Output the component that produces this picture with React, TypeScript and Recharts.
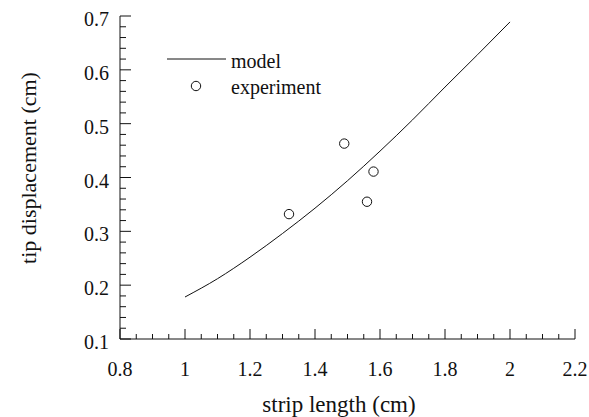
import { ComposedChart, Line, Scatter, XAxis, YAxis, Label } from "recharts";

// model curve (strip length cm -> tip displacement cm)
const modelLength = [1.0, 1.1, 1.2, 1.3, 1.4, 1.5, 1.6, 1.7, 1.8, 1.9, 2.0];
const modelDisp = [0.178, 0.212, 0.252, 0.296, 0.343, 0.394, 0.449, 0.507, 0.568, 0.628, 0.689];

// measured points
const expLength = [1.32, 1.49, 1.58, 1.56];
const expDisp = [0.332, 0.463, 0.411, 0.355];

const xTicks = [
  0.8, 0.85, 0.9, 0.95, 1, 1.05, 1.1, 1.15, 1.2, 1.25, 1.3, 1.35, 1.4, 1.45, 1.5,
  1.55, 1.6, 1.65, 1.7, 1.75, 1.8, 1.85, 1.9, 1.95, 2, 2.05, 2.1, 2.15, 2.2,
];
const xMajor = [0.8, 1, 1.2, 1.4, 1.6, 1.8, 2, 2.2];
const yTicks = [
  0.1, 0.12, 0.14, 0.16, 0.18, 0.2, 0.22, 0.24, 0.26, 0.28, 0.3, 0.32, 0.34, 0.36, 0.38,
  0.4, 0.42, 0.44, 0.46, 0.48, 0.5, 0.52, 0.54, 0.56, 0.58, 0.6, 0.62, 0.64, 0.66, 0.68, 0.7,
];
const yMajor = [0.1, 0.2, 0.3, 0.4, 0.5, 0.6, 0.7];

const modelData = modelLength.map((x, i) => ({ x, y: modelDisp[i] }));
const expData = expLength.map((x, i) => ({ x, y: expDisp[i] }));

const FONT = "'Liberation Serif', 'Times New Roman', Times, serif";
const INK = "#111";
const txt = { fontFamily: FONT };

const isMajor = (v: number, list: number[]) => list.some((m) => Math.abs(m - v) < 1e-6);

const BottomTick = (props: any) => {
  const { x, y, payload } = props;
  const major = isMajor(payload.value, xMajor);
  return (
    <g>
      <line x1={x} y1={y} x2={x} y2={y - (major ? 10 : 5)} stroke={INK} />
      {major && (
        <text x={x} y={y + 37} textAnchor="middle" fontSize={20} style={txt} fill={INK}>
          {String(payload.value)}
        </text>
      )}
    </g>
  );
};

const TopTick = (props: any) => {
  const { x, y, payload } = props;
  const major = isMajor(payload.value, xMajor);
  return <line x1={x} y1={y} x2={x} y2={y + (major ? 10 : 5)} stroke={INK} />;
};

const LeftTick = (props: any) => {
  const { x, y, payload } = props;
  const major = isMajor(payload.value, yMajor);
  return (
    <g>
      <line x1={x} y1={y} x2={x + (major ? 11 : 6)} y2={y} stroke={INK} />
      {major && (
        <text x={x - 11} y={y + 10} textAnchor="end" fontSize={20} style={txt} fill={INK}>
          {String(payload.value)}
        </text>
      )}
    </g>
  );
};

const RightTick = (props: any) => {
  const { x, y, payload } = props;
  const major = isMajor(payload.value, yMajor);
  return <line x1={x} y1={y} x2={x - (major ? 11 : 6)} y2={y} stroke={INK} />;
};

export default function App() {
  return (
    <div style={{ position: "absolute", left: 0, top: 0, width: 589, height: 417, background: "#fff" }}>
      <ComposedChart
        width={589}
        height={417}
        margin={{ top: 16, right: 14, bottom: 28, left: 0 }}
      >
        <XAxis
          xAxisId="b"
          dataKey="x"
          type="number"
          domain={[0.8, 2.2]}
          ticks={xTicks}
          interval={0}
          allowDataOverflow
          height={50}
          tickSize={0}
          tickMargin={0}
          tickLine={false}
          axisLine={{ stroke: INK }}
          tick={<BottomTick />}
        >
          <Label
            content={() => (
              <text x={339} y={412} textAnchor="middle" fontSize={23} style={txt} fill={INK}>
                strip length (cm)
              </text>
            )}
          />
        </XAxis>
        <XAxis
          xAxisId="t"
          orientation="top"
          dataKey="x"
          type="number"
          domain={[0.8, 2.2]}
          ticks={xTicks}
          interval={0}
          allowDataOverflow
          height={0}
          tickSize={0}
          tickMargin={0}
          tickLine={false}
          axisLine={{ stroke: INK }}
          tick={<TopTick />}
        />
        <YAxis
          yAxisId="l"
          type="number"
          domain={[0.1, 0.7]}
          ticks={yTicks}
          interval={0}
          allowDataOverflow
          width={120}
          tickSize={0}
          tickMargin={0}
          tickLine={false}
          axisLine={{ stroke: INK }}
          tick={<LeftTick />}
        >
          <Label
            content={() => (
              <text
                transform="translate(36,168) rotate(-90)"
                textAnchor="middle"
                fontSize={22}
                style={txt}
                fill={INK}
              >
                tip displacement (cm)
              </text>
            )}
          />
        </YAxis>
        <YAxis
          yAxisId="r"
          orientation="right"
          type="number"
          domain={[0.1, 0.7]}
          ticks={yTicks}
          interval={0}
          allowDataOverflow
          width={0}
          tickSize={0}
          tickMargin={0}
          tickLine={false}
          axisLine={{ stroke: INK }}
          tick={<RightTick />}
        />
        <Line
          xAxisId="b"
          yAxisId="l"
          data={modelData}
          dataKey="y"
          type="monotone"
          stroke={INK}
          strokeWidth={1}
          dot={false}
          isAnimationActive={false}
        />
        <Scatter
          xAxisId="b"
          yAxisId="l"
          data={expData}
          dataKey="y"
          fill="none"
          stroke={INK}
          shape={(p: any) => <circle cx={p.cx} cy={p.cy} r={4.7} fill="none" stroke={INK} />}
          isAnimationActive={false}
        />
      </ComposedChart>
      {/* legend */}
      <svg width={200} height={50} style={{ position: "absolute", left: 165, top: 50 }}>
        <line x1={2} y1={9} x2={61} y2={9} stroke={INK} />
        <text x={66} y={18} fontSize={20} style={txt} fill={INK}>model</text>
        <circle cx={31} cy={36} r={4.7} fill="none" stroke={INK} />
        <text x={66} y={44} fontSize={20} style={txt} fill={INK}>experiment</text>
      </svg>
    </div>
  );
}
